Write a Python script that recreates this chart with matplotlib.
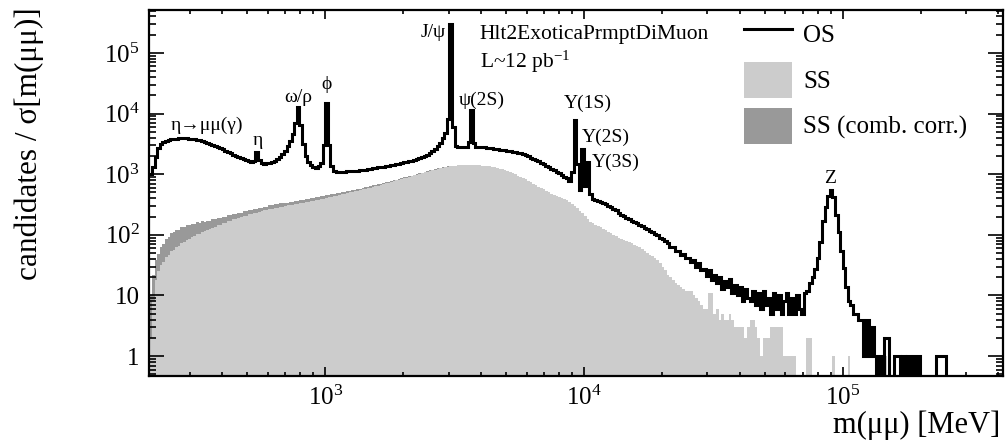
import numpy as np
import matplotlib
matplotlib.use("Agg")
import matplotlib.pyplot as plt
from matplotlib.lines import Line2D
from matplotlib.patches import Patch
from matplotlib.ticker import FixedLocator, FixedFormatter, LogLocator, NullFormatter

plt.rcParams['font.family'] = ['Liberation Serif', 'DejaVu Serif']
plt.rcParams['mathtext.fontset'] = 'custom'
plt.rcParams['mathtext.rm'] = 'Liberation Serif'
plt.rcParams['mathtext.it'] = 'Liberation Serif:italic'
plt.rcParams['mathtext.bf'] = 'Liberation Serif:bold'

# ---------------- data ----------------
# binning in log10(m / MeV)
log_mass_lo = 2.32
log_mass_hi = 5.62
n_bins = 330

# opposite-sign candidates per bin
os_counts = [
    1000, 1300, 1900, 2700, 3100, 3350, 3500, 3650, 3750, 3800,
    3850, 3880, 3900, 3900, 3880, 3850, 3800, 3750, 3700, 3600,
    3500, 3420, 3330, 3200, 3080, 2950, 2820, 2700, 2560, 2440,
    2320, 2200, 2100, 2000, 1920, 1850, 1780, 1720, 1660, 1610,
    1650, 2300, 1700, 1520, 1500, 1510, 1540, 1590, 1680, 1800,
    1900, 2150, 2450, 2900, 3500, 4600, 7000, 12800, 6500, 3200,
    2000, 1600, 1400, 1300, 1260, 1350, 1550, 3000, 15000, 3000,
    1350, 1150, 1100, 1100, 1100, 1100, 1110, 1120, 1130, 1140,
    1150, 1160, 1170, 1190, 1210, 1230, 1250, 1270, 1290, 1310,
    1330, 1350, 1380, 1410, 1440, 1470, 1500, 1530, 1570, 1600,
    1640, 1680, 1730, 1780, 1840, 1900, 1980, 2080, 2200, 2400,
    2650, 2950, 3300, 3900, 4700, 8000, 300000, 6000, 2900, 2800,
    2800, 2800, 2850, 3400, 11500, 3300, 2850, 2800, 2780, 2760,
    2730, 2700, 2670, 2630, 2590, 2550, 2500, 2460, 2420, 2380,
    2330, 2290, 2240, 2200, 2130, 2050, 1970, 1880, 1790, 1700,
    1620, 1530, 1450, 1370, 1300, 1230, 1170, 1100, 1040, 970,
    910, 850, 760, 1100, 7800, 1500, 550, 2600, 650, 1600,
    480, 390, 372, 358, 348, 332, 318, 300, 290, 268,
    252, 232, 215, 204, 192, 182, 170, 160, 155, 146,
    140, 128, 126, 114, 112, 102, 100, 90, 86, 78,
    74, 64, 62, 54, 54, 47, 48, 42, 42, 36,
    38, 30, 34, 26, 27, 21, 26, 18, 22, 16,
    20, 13, 17, 14, 19, 11, 15, 10, 14, 8,
    13, 9, 8, 12, 7, 11, 6, 12, 7, 9,
    5, 11, 6, 10, 5, 8, 11, 5, 9, 5,
    10, 6, 5, 11, 12, 16, 20, 27, 42, 75,
    170, 290, 440, 550, 420, 210, 110, 55, 28, 14,
    8, 7, 5, 5, 4, 4, 1, 4, 1, 3,
    1, 0, 1, 0, 2, 2, 0, 0, 1, 1,
    0, 1, 0, 1, 0, 1, 0, 1, 0, 0,
    0, 0, 0, 0, 1, 1, 1, 1, 0, 0,
    0, 0, 0, 0, 0, 0, 0, 0, 0, 0,
    0, 0, 0, 0, 0, 0, 0, 0, 0, 0,
]

# same-sign candidates per bin
ss_counts = [
    2, 8, 18, 25, 32, 35, 43, 46, 54, 56,
    63, 65, 73, 75, 82, 85, 93, 95, 102, 105,
    112, 115, 122, 125, 132, 136, 144, 148, 156, 159,
    168, 171, 180, 183, 192, 195, 204, 207, 217, 220,
    229, 233, 242, 245, 254, 257, 266, 269, 278, 281,
    290, 293, 302, 305, 313, 316, 325, 328, 337, 339,
    347, 350, 358, 363, 372, 378, 387, 394, 405, 413,
    425, 433, 445, 454, 466, 476, 488, 499, 512, 523,
    537, 549, 563, 575, 590, 601, 615, 631, 650, 667,
    687, 705, 726, 745, 767, 787, 810, 832, 856, 879,
    905, 929, 956, 982, 1010, 1037, 1067, 1096, 1128, 1159,
    1192, 1225, 1260, 1285, 1305, 1325, 1345, 1365, 1380, 1395,
    1405, 1415, 1420, 1425, 1425, 1420, 1410, 1400, 1390, 1380,
    1365, 1345, 1325, 1300, 1270, 1240, 1200, 1160, 1120, 1080,
    1035, 990, 945, 900, 860, 820, 780, 740, 700, 660,
    620, 590, 560, 530, 505, 480, 455, 435, 415, 400,
    385, 370, 350, 325, 300, 275, 250, 225, 205, 185,
    165, 155, 148, 140, 135, 125, 120, 112, 108, 100,
    96, 90, 86, 82, 78, 75, 72, 68, 65, 62,
    58, 55, 50, 47, 44, 41, 38, 34, 30, 26,
    22, 20, 18, 16, 15, 14, 13, 12, 12, 12,
    10, 9, 8, 7, 6, 6, 11, 11, 5, 6,
    4, 5, 4, 4, 5, 4, 3, 3, 3, 3,
    2, 3, 4, 4, 3, 2, 1, 2, 2, 2,
    3, 3, 3, 3, 3, 1, 1, 1, 1, 1,
    0, 0, 0, 0, 2, 2, 0, 0, 0, 0,
    0, 0, 0, 0, 1, 0, 0, 0, 0, 0,
    1, 0, 0, 0, 0, 0, 0, 0, 0, 0,
    0, 0, 0, 0, 1, 0, 0, 0, 0, 0,
    0, 0, 0, 0, 0, 0, 0, 0, 0, 0,
    0, 0, 0, 0, 0, 0, 0, 0, 0, 0,
    0, 0, 0, 0, 0, 0, 0, 0, 0, 0,
    0, 0, 0, 0, 0, 0, 0, 0, 0, 0,
]

# same-sign, combinatorial-corrected (visible low-mass part)
ss_corr_counts = [
    10, 22, 38, 48, 64, 70, 86, 92, 106, 110,
    121, 122, 133, 133, 143, 143, 153, 151, 161, 158,
    166, 163, 172, 170, 180, 179, 190, 189, 200, 199,
    210, 209, 221, 221, 233, 233, 245, 245, 257, 257,
    269, 269, 281, 281, 293, 293, 305, 305, 317, 317,
    329, 329, 341, 341, 353, 353, 365, 365, 377, 377,
    388, 388, 400, 401, 414, 417, 430, 433, 447, 449,
    464, 467, 483, 486, 502, 507, 524, 529, 547, 553,
    572, 579, 598, 605, 625, 631, 651, 661, 685, 695,
    719, 731, 757, 770, 797, 811, 839, 855, 885, 902,
    933, 951, 983, 1003, 1037, 1057, 1093, 1115, 1153, 1177,
    1212, 1244, 1276, 1300, 1320, 1340,
]

y_ticks = [1, 10, 1e2, 1e3, 1e4, 1e5]
y_ticklabels = ['1', '10', '$10^{2}$', '$10^{3}$', '$10^{4}$', '$10^{5}$']
x_ticks = [1e3, 1e4, 1e5]
x_ticklabels = ['$10^{3}$', '$10^{4}$', '$10^{5}$']

# resonance labels: (text, mass, height)
peak_labels = [
    ('η→μμ(γ)', 348, 6500),
    ('η', 549, 3660),
    ('ω/ρ', 783, 18700),
    ('ϕ', 1015, 29600),
    ('J/ψ', 2606, 2.14e5),
    ('ψ(2S)', 4036, 16700),
    ('Υ(1S)', 10350, 15000),
    ('Υ(2S)', 12160, 4110),
    ('Υ(3S)', 13300, 1590),
    ('Z', 89300, 865),
]

# ---------------- plot ----------------
mass_edges = np.logspace(log_mass_lo, log_mass_hi, n_bins + 1)

W, H = 1006, 443
fig = plt.figure(figsize=(W / 100, H / 100), dpi=100)
ax = fig.add_axes([149.4 / W, 1 - 376 / H, (1003.1 - 149.4) / W, 366 / H])

ax.stairs(ss_corr_counts, mass_edges[:len(ss_corr_counts) + 1], fill=True,
          color='#999999', baseline=0.1, lw=0)
ax.stairs(ss_counts, mass_edges, fill=True, color='#cccccc', baseline=0.1, lw=0)
ax.stairs(os_counts, mass_edges, color='black', lw=2.2, baseline=None)

ax.set_xscale('log')
ax.set_yscale('log')
ax.set_xlim(mass_edges[0], mass_edges[-1])
ax.set_ylim(0.47, 5.1e5)

ax.yaxis.set_major_locator(FixedLocator(y_ticks))
ax.yaxis.set_major_formatter(FixedFormatter(y_ticklabels))
ax.yaxis.set_minor_locator(LogLocator(base=10, subs=np.arange(2, 10)))
ax.yaxis.set_minor_formatter(NullFormatter())
ax.xaxis.set_major_locator(FixedLocator(x_ticks))
ax.xaxis.set_major_formatter(FixedFormatter(x_ticklabels))
ax.xaxis.set_minor_locator(LogLocator(base=10, subs=np.arange(2, 10)))
ax.xaxis.set_minor_formatter(NullFormatter())

ax.tick_params(which='both', direction='in', top=True, right=True,
               labelsize=18, width=1.2, colors='black')
ax.tick_params(axis='y', which='major', length=10.8, pad=7)
ax.tick_params(axis='y', which='minor', length=5)
ax.tick_params(axis='x', which='major', length=6.5, pad=7)
ax.tick_params(axis='x', which='minor', length=3.2)
for sp in ax.spines.values():
    sp.set_linewidth(1.6)

for txt, mx, my in peak_labels:
    ax.text(mx, my, txt, ha='center', va='center', fontsize=14)

ax.text(3960, 1.98e5, 'Hlt2ExoticaPrmptDiMuon', ha='left', va='center', fontsize=15.5)
ax.text(3960, 7.1e4, 'L~12 pb$^{-1}$', ha='left', va='center', fontsize=15.5)

handles = [Line2D([], [], color='black', lw=2.2),
           Patch(facecolor='#cccccc', edgecolor='none'),
           Patch(facecolor='#999999', edgecolor='none')]
ax.legend(handles, ['OS', 'SS', 'SS (comb. corr.)'], loc='upper left',
          bbox_to_anchor=(0.697, 0.985), frameon=False, fontsize=18,
          handlelength=1.9, handleheight=1.85, labelspacing=0.4,
          handletextpad=0.45, borderpad=0, borderaxespad=0)

fig.text(29 / W, 1 - 7 / H, 'candidates / σ[m(μμ)]', rotation=90,
         ha='center', va='top', fontsize=22.5)
fig.text(1000 / W, 1 - 425 / H, 'm(μμ) [MeV]', ha='right', va='center', fontsize=22)

fig.savefig('out.png', dpi=100)
